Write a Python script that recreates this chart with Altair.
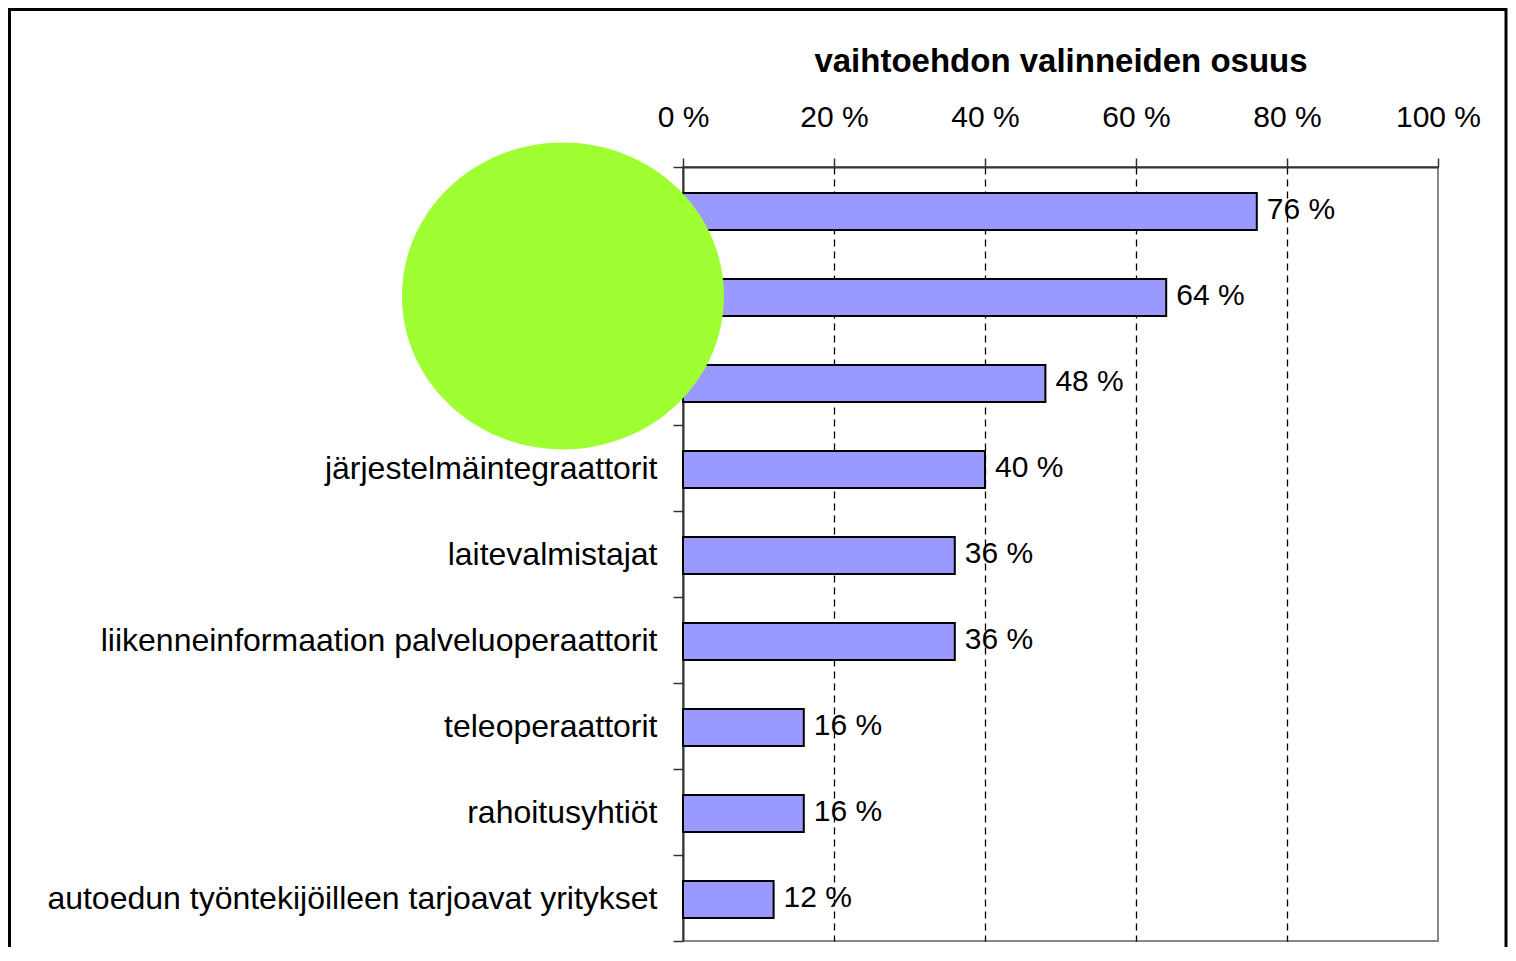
import altair as alt
import pandas as pd

categories = [
    "kunnat",
    "valtio",
    "tienpitäjät",
    "järjestelmäintegraattorit",
    "laitevalmistajat",
    "liikenneinformaation palveluoperaattorit",
    "teleoperaattorit",
    "rahoitusyhtiöt",
    "autoedun työntekijöilleen tarjoavat yritykset",
]
values = [76, 64, 48, 40, 36, 36, 16, 16, 12]
tick_values = [0, 20, 40, 60, 80, 100]

# occluding disc (annotation) placed in data coordinates
disc_x = [-15.9]
disc_cat = [categories[1]]

FONT = "Liberation Sans"

df = pd.DataFrame({"cat": categories, "val": values})
df["label"] = df["val"].astype(str) + " %"

yscale = alt.Scale(domain=categories, paddingInner=0, paddingOuter=0)
xscale = alt.Scale(domain=[0, 100], nice=False)

xaxis = alt.Axis(
    orient="top",
    values=tick_values,
    labelExpr="datum.value + ' %'",
    labelFlush=False,
    labelAlign="center",
    title="vaihtoehdon valinneiden osuus",
    titleFont=FONT,
    titleFontSize=33,
    titleFontWeight="bold",
    titleColor="black",
    titleY=-96,
    titleBaseline="alphabetic",
    labelFont=FONT,
    labelFontSize=30,
    labelColor="black",
    labelBaseline="alphabetic",
    labelPadding=32,
    tickSize=9,
    tickColor="#333333",
    tickWidth=1.5,
    domainColor="#333333",
    domainWidth=2,
    grid=True,
    gridColor="black",
    gridWidth=1.3,
    gridDash=[7, 5],
    gridOpacity={"condition": {"test": "datum.value == 0 || datum.value == 100", "value": 0}, "value": 1},
)

yaxis = alt.Axis(
    title=None,
    labelFont=FONT,
    labelFontSize=32,
    labelColor="black",
    labelPadding=16,
    labelLimit=800,
    tickBand="extent",
    tickSize=10,
    tickColor="#333333",
    tickWidth=1.5,
    domainColor="#333333",
    domainWidth=2,
    grid=False,
)

base = alt.Chart(df)

bars = base.mark_bar(
    color="#9999FF", stroke="black", strokeWidth=2,
    height=alt.RelativeBandSize(band=0.43), yOffset=1.5,
).encode(
    x=alt.X("val:Q", scale=xscale, axis=xaxis),
    y=alt.Y("cat:N", scale=yscale, axis=yaxis, sort=categories),
)

texts = base.mark_text(
    align="left", baseline="middle", dx=10, dy=0, font=FONT, fontSize=30, color="black"
).encode(
    x=alt.X("val:Q", scale=xscale),
    y=alt.Y("cat:N", scale=yscale, sort=categories),
    text="label:N",
)

disc_df = pd.DataFrame({"x": disc_x, "cat": disc_cat})
disc = alt.Chart(disc_df).mark_point(
    shape="M-1,0A1,0.953,0,1,1,1,0A1,0.953,0,1,1,-1,0Z",
    size=103684,
    filled=True,
    color="#A0FF33",
    opacity=1,
    strokeWidth=0,
).encode(
    x=alt.X("x:Q", scale=xscale),
    y=alt.Y("cat:N", scale=yscale, sort=categories),
)

frame = alt.Chart(pd.DataFrame({"a": [0]})).mark_rect(
    fillOpacity=0, stroke="black", strokeWidth=3
).encode(
    x=alt.value(-673.5), x2=alt.value(823), y=alt.value(-157.5), y2=alt.value(820)
)

chart = alt.layer(bars, texts, disc, frame).properties(
    width=755,
    height=774,
    padding={"left": 675, "top": 159, "right": 70, "bottom": 6},
    autosize=alt.AutoSizeParams(type="none"),
    background="white",
).configure_view(stroke="#888888", strokeWidth=2)

chart.save("out.html", embed_options={"renderer": "svg", "actions": False})
